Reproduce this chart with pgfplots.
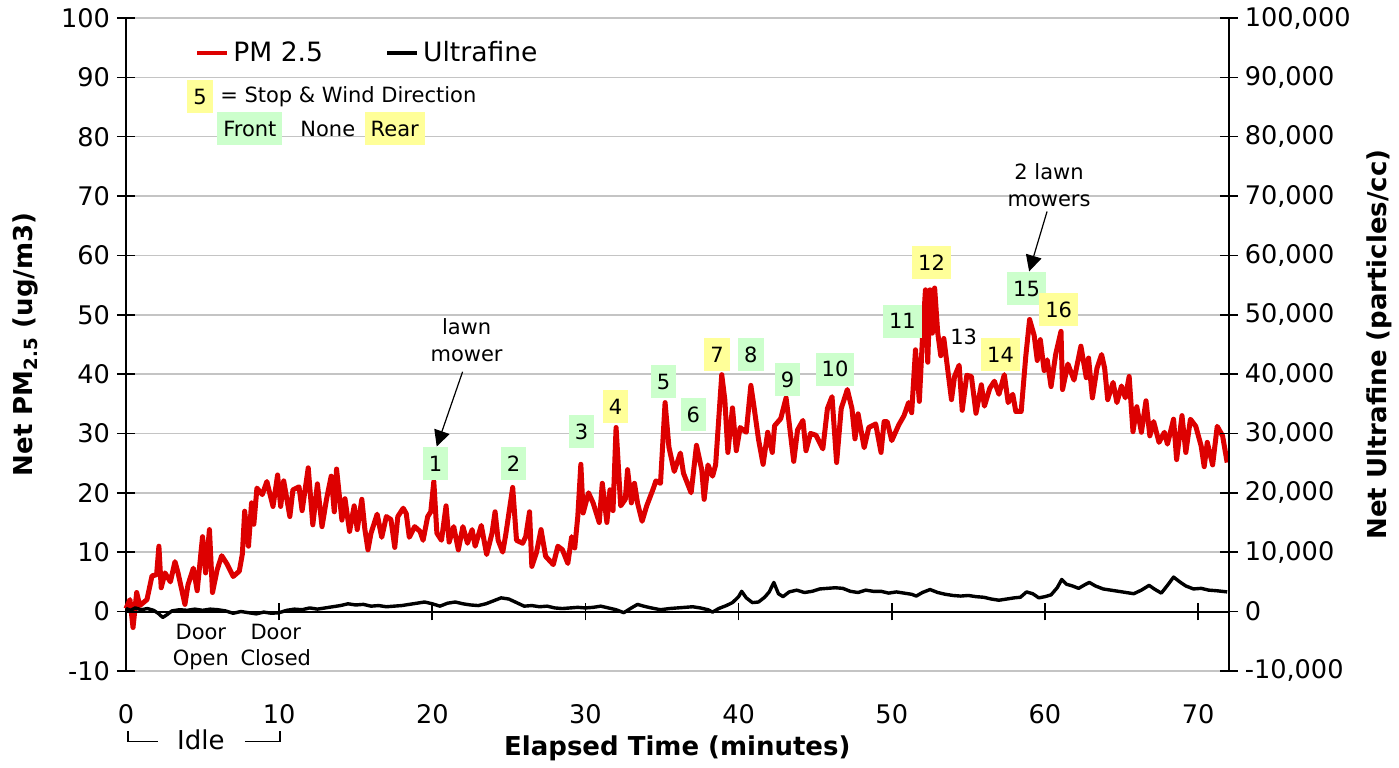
\documentclass[border=0pt]{standalone}
\usepackage{fontspec}
\setmainfont{DejaVu Sans}
\usepackage{pgfplots}
\pgfplotsset{compat=1.18}
\usetikzlibrary{arrows.meta}
\definecolor{pmred}{RGB}{221,0,0}
\definecolor{boxgreen}{HTML}{CCFFCC}
\definecolor{boxyellow}{HTML}{FFFF99}
\definecolor{gridgray}{HTML}{C4C4C4}

\begin{document}
\begin{tikzpicture}[
  stopg/.style={fill=boxgreen, inner xsep=3pt, minimum height=16.5pt, font=\fontsize{10.5}{12}\selectfont},
  stopy/.style={stopg, fill=boxyellow},
  note/.style={font=\fontsize{10.5}{13.5}\selectfont, align=center},
  pointer/.style={line width=0.6pt, -{Triangle[length=8pt,width=8pt]}},
]
\path (0,0) rectangle (699.5pt,384pt);
\begin{axis}[
  at={(63pt,48.5pt)}, anchor=south west,
  scale only axis, width=551.5pt, height=326.5pt,
  xmin=0, xmax=72, ymin=-10, ymax=100,
  xtick={0,10,...,70}, ytick={-10,0,...,100},
  axis x line*=bottom, axis y line*=left,
  x axis line style={draw=none},
  y axis line style={line width=1pt},
  ymajorgrids, grid style={gridgray, line width=0.8pt},
  tick align=center, major tick length=9pt,
  ytick style={black, line width=0.8pt},
  xtick style={draw=none},
  /pgf/number format/assume math mode=true,
  ticklabel style={font=\fontsize{12.8}{15}\selectfont},
  xticklabel style={yshift=-9pt},
  xlabel={Elapsed Time (minutes)},
  xlabel style={at={(axis description cs:0.5,-0.118)}, anchor=center, font=\bfseries\fontsize{13}{15}\selectfont},
  ylabel={Net PM\textsubscript{2.5} (ug/m3)},
  ylabel style={at={(axis description cs:-0.0916,0.5)}, anchor=center, font=\bfseries\fontsize{13}{15}\selectfont},
  legend style={at={(axis description cs:0.0626,0.946)}, anchor=west, draw=none, fill=none, inner sep=0pt,
    font=\fontsize{13.3}{15}\selectfont, /tikz/every even column/.append style={column sep=29pt}},
  legend columns=2,
  legend image code/.code={\draw[#1, line width=2pt] (0pt,0pt) -- (15pt,0pt);},
  clip=false,
]
% PM 2.5
\addplot[pmred, line width=2.5pt, line join=round] coordinates {
(0,0.5) (0.26,2) (0.46,-2.7) (0.7,3.2) (0.9,1) (1.37,2) (1.7,6) (2.0,6.2) (2.15,11) (2.3,4)
(2.55,6.5) (2.9,5) (3.2,8.4) (3.4,6.5) (3.85,1.2) (4.05,4.5) (4.4,7.3) (4.65,3.5) (5.0,12.6) (5.2,6.5)
(5.45,13.8) (5.65,3.2) (5.95,7) (6.25,9.4) (6.6,8) (7.0,5.9) (7.4,6.8) (7.6,9.7) (7.75,16.9) (8.0,11)
(8.2,18.3) (8.35,14.7) (8.55,20.8) (8.9,19.7) (9.2,21.9) (9.6,17.7) (9.9,23) (10.1,17.7) (10.3,22) (10.7,16)
(10.9,20.5) (11.3,21) (11.5,17) (11.9,24.2) (12.2,14.6) (12.5,21.5) (12.8,14.3) (13.1,19) (13.4,22.8) (13.6,16.8)
(13.75,24) (14.1,15.4) (14.3,19) (14.6,13.5) (14.9,17.8) (15.1,13.8) (15.4,18.9) (15.6,13.8) (15.8,10.4) (16.0,13.2)
(16.4,16.4) (16.7,12.5) (17.0,16) (17.3,15.5) (17.55,10.8) (17.75,16) (18.1,17.4) (18.3,16.5) (18.5,12.5) (18.85,14.3)
(19.2,13.5) (19.4,12) (19.7,16) (19.9,16.8) (20.1,21.9) (20.3,13.2) (20.6,12) (20.9,17.8) (21.1,11.7) (21.4,14.3)
(21.7,10.4) (22.0,14.3) (22.3,11.5) (22.6,13.8) (22.8,11) (23.2,14.5) (23.55,9.6) (23.9,13.2) (24.1,16.8) (24.3,12)
(24.6,10) (24.8,13) (25.25,20.9) (25.5,12) (25.9,11.5) (26.1,12.6) (26.35,16.8) (26.5,7.6) (26.8,9.9) (27.1,13.8)
(27.4,9.3) (27.9,7.9) (28.2,11) (28.5,10.4) (28.85,8.1) (29.1,12.6) (29.3,10.7) (29.5,16) (29.7,24.8) (29.85,16.6)
(30.2,20) (30.5,18.3) (30.9,15) (31.1,21.6) (31.4,15) (31.6,20.5) (31.8,17) (32.0,31) (32.3,17.8) (32.6,18.9)
(32.75,23.9) (33.0,18.3) (33.2,21.6) (33.4,18.3) (33.7,15.2) (34.0,17.8) (34.4,20.5) (34.6,22) (34.9,21.6) (35.2,35.2)
(35.45,27.7) (35.8,23.6) (36.2,26.7) (36.4,23.3) (36.9,20) (37.25,28) (37.6,23.8) (37.75,18.9) (38.0,24.7) (38.3,22.8)
(38.5,24.7) (38.9,39.9) (39.1,35.7) (39.3,26.8) (39.6,34.3) (39.85,27.1) (40.1,31) (40.5,30.2) (40.8,38.1) (41.0,34.6)
(41.3,29) (41.6,24.8) (41.9,30.2) (42.2,26.8) (42.35,31.3) (42.75,32.5) (43.1,36) (43.3,31.8) (43.6,25.3) (43.85,30.6)
(44.2,32.2) (44.4,27.1) (44.7,30) (45.05,29.7) (45.5,27.4) (45.8,34.2) (46.1,36.2) (46.4,25.1) (46.7,34.2) (47.1,37.4)
(47.4,34.2) (47.6,29.1) (47.8,33.3) (48.2,27.6) (48.5,31) (48.95,31.6) (49.3,26.8) (49.5,32) (49.7,32) (50.0,28.8)
(50.45,31.4) (50.8,33) (51.1,35.2) (51.3,33.5) (51.55,44.1) (51.8,35.4) (52.0,45.8) (52.2,54.2) (52.35,42) (52.5,54.2)
(52.65,46.9) (52.8,54.5) (53.0,47) (53.2,43.1) (53.4,46) (53.9,35.7) (54.1,39.6) (54.4,41.5) (54.6,33.9) (54.9,39.8)
(55.2,39.6) (55.5,33.4) (55.85,38.2) (56.05,34.6) (56.4,37.6) (56.7,38.8) (57.0,36.6) (57.35,39.9) (57.6,35.2) (57.9,36.6)
(58.1,33.7) (58.45,33.7) (58.75,43) (59.0,49.2) (59.3,46.5) (59.5,42.3) (59.7,45.8) (59.95,40.6) (60.15,42.4) (60.4,37.9)
(60.7,43.3) (61.05,47.2) (61.15,37.4) (61.5,41.7) (61.9,39) (62.35,44.7) (62.7,39.4) (62.85,42.7) (63.1,36) (63.4,41)
(63.7,43.3) (63.9,41) (64.1,35.7) (64.45,38.6) (64.7,35.2) (65.0,38) (65.25,36) (65.5,39.6) (65.75,30.3) (66.0,34.5)
(66.3,30.2) (66.6,35.5) (66.85,29.6) (67.1,32) (67.45,28.5) (67.8,30.2) (68.0,28.2) (68.4,32.4) (68.6,25.6) (68.95,33)
(69.2,26.8) (69.5,32.4) (69.85,31.2) (70.2,27.9) (70.4,24.4) (70.6,28.5) (70.95,24.7) (71.25,31.2) (71.6,29.6) (71.9,25.1)
};
\addlegendentry{PM 2.5}
\addlegendimage{black}
\addlegendentry{Ultrafine}

% x axis drawn at zero
\draw[black, line width=1pt] (axis cs:0,0) -- (axis cs:72,0);
\pgfplotsinvokeforeach{10,20,...,70}{
  \draw[black, line width=0.8pt] ([yshift=-4.5pt]axis cs:#1,0) -- ([yshift=4.5pt]axis cs:#1,0);
}

% key to the stop boxes
\node[stopy] at (axis cs:4.83,86.76) {5};
\node[anchor=west, font=\fontsize{10.5}{12}\selectfont, inner sep=0pt] at (axis cs:6.13,86.76) {= Stop \& Wind Direction};
\node[stopg] at (axis cs:8.09,81.37) {Front};
\node[font=\fontsize{10.5}{12}\selectfont] at (axis cs:13.18,81.37) {None};
\node[stopy] at (axis cs:17.55,81.37) {Rear};

% stops
\node[stopg] at (axis cs:20.22,24.93) {1};
\node[stopg] at (axis cs:25.31,24.93) {2};
\node[stopg] at (axis cs:29.75,30.3) {3};
\node[stopy] at (axis cs:31.96,34.5) {4};
\node[stopg] at (axis cs:35.1,38.7) {5};
\node[stopg] at (axis cs:37.05,33.2) {6};
\node[stopy] at (axis cs:38.6,43.3) {7};
\node[stopg] at (axis cs:40.8,43.3) {8};
\node[stopg] at (axis cs:43.2,39.1) {9};
\node[stopg] at (axis cs:46.3,40.8) {10};
\node[stopg] at (axis cs:50.7,48.9) {11};
\node[stopy] at (axis cs:52.6,58.8) {12};
\node[font=\fontsize{10.5}{12}\selectfont] at (axis cs:54.7,46.2) {13};
\node[stopy] at (axis cs:57.1,43.3) {14};
\node[stopg] at (axis cs:58.8,54.4) {15};
\node[stopy] at (axis cs:60.9,50.9) {16};

% mower notes
\node[note] at (axis cs:22.24,45.8) {lawn\\mower};
\draw[pointer] (axis cs:21.98,40.4) -- (axis cs:20.29,27.8);
\node[note] at (axis cs:60.27,71.8) {2 lawn\\mowers};
\draw[pointer] (axis cs:60.14,67.4) -- (axis cs:58.97,57.3);

% door and idle notes
\node[note, anchor=base] at (axis cs:4.89,-4.7) {Door};
\node[note, anchor=base] at (axis cs:4.89,-9.1) {Open};
\node[note, anchor=base] at (axis cs:9.78,-4.7) {Door};
\node[note, anchor=base] at (axis cs:9.78,-9.1) {Closed};
\draw[line width=0.8pt] (axis cs:0.13,-20.2) |- (axis cs:2.09,-21.9);
\node[anchor=base, font=\fontsize{13}{15}\selectfont] at (axis cs:4.89,-23.3) {Idle};
\draw[line width=0.8pt] (axis cs:7.76,-21.9) -| (axis cs:10.05,-20.2);
\end{axis}

\begin{axis}[
  at={(63pt,48.5pt)}, anchor=south west,
  scale only axis, width=551.5pt, height=326.5pt,
  xmin=0, xmax=72, ymin=-10000, ymax=100000,
  axis x line=none, axis y line*=right,
  y axis line style={line width=1pt},
  ytick={-10000,0,...,100000},
  yticklabels={{-10,000},{0},{10,000},{20,000},{30,000},{40,000},{50,000},{60,000},{70,000},{80,000},{90,000},{100,000}},
  scaled y ticks=false,
  tick align=center, major tick length=9pt,
  ytick style={black, line width=0.8pt},
  ticklabel style={font=\fontsize{12.8}{15}\selectfont},
  ylabel={Net Ultrafine (particles/cc)},
  ylabel style={at={(axis description cs:1.137,0.5)}, anchor=center, font=\bfseries\fontsize{13}{15}\selectfont},
  clip=false,
]
% Ultrafine
\addplot[black, line width=1.7pt, line join=round] coordinates {
(0,500) (0.3,200) (0.6,600) (1.0,300) (1.4,500) (1.8,200) (2.1,-300) (2.4,-1000) (2.7,-500) (3.0,100)
(3.5,300) (4.0,200) (4.5,400) (5.0,200) (5.5,400) (6.0,300) (6.5,100) (7.0,-300) (7.5,0) (8.0,-200)
(8.5,-400) (9.0,-100) (9.5,-300) (10.0,-200) (10.5,200) (11.0,400) (11.5,300) (12.0,600) (12.5,400) (13.0,600)
(13.5,800) (14.0,1000) (14.5,1300) (15.0,1100) (15.5,1200) (16.0,900) (16.5,1000) (17.0,800) (17.5,900) (18.0,1000)
(18.5,1200) (19.0,1400) (19.5,1600) (20.0,1300) (20.5,900) (21.0,1400) (21.5,1600) (22.0,1300) (22.5,1100) (23.0,1000)
(23.5,1300) (24.0,1800) (24.5,2300) (25.0,2100) (25.5,1500) (26.0,900) (26.5,1000) (27.0,800) (27.5,900) (28.0,600)
(28.5,500) (29.0,600) (29.5,700) (30.0,600) (30.5,700) (31.0,900) (31.5,600) (32.0,300) (32.5,-200) (33.0,600)
(33.4,1200) (33.8,900) (34.3,600) (34.9,300) (35.5,500) (36.0,600) (36.5,700) (37.0,800) (37.5,600) (38.0,300)
(38.3,-100) (38.7,500) (39.2,1000) (39.6,1500) (40.0,2500) (40.2,3400) (40.5,2300) (40.9,1500) (41.3,1600) (41.7,2400)
(42.0,3300) (42.3,4900) (42.6,3000) (42.9,2500) (43.3,3300) (43.8,3600) (44.3,3200) (44.8,3400) (45.3,3800) (45.8,3900)
(46.3,4000) (46.8,3900) (47.3,3400) (47.8,3200) (48.3,3600) (48.8,3400) (49.3,3400) (49.8,3100) (50.3,3300) (50.8,3100)
(51.3,2900) (51.6,2600) (52.0,3200) (52.5,3700) (53.0,3200) (53.5,2900) (54.0,2700) (54.5,2600) (55.0,2700) (55.5,2500)
(56.0,2400) (56.5,2100) (57.0,1900) (57.5,2100) (58.0,2300) (58.4,2400) (58.8,3300) (59.2,3000) (59.6,2300) (60.0,2500)
(60.4,2800) (60.8,4000) (61.1,5400) (61.4,4600) (61.8,4300) (62.2,3900) (62.6,4500) (62.9,4900) (63.3,4300) (63.8,3800)
(64.3,3600) (64.8,3400) (65.3,3200) (65.8,3000) (66.3,3600) (66.8,4400) (67.2,3700) (67.6,3100) (68.0,4400) (68.4,5800)
(68.8,5000) (69.2,4300) (69.7,3800) (70.2,3900) (70.7,3600) (71.2,3500) (71.9,3300)
};
\end{axis}
\end{tikzpicture}
\end{document}
